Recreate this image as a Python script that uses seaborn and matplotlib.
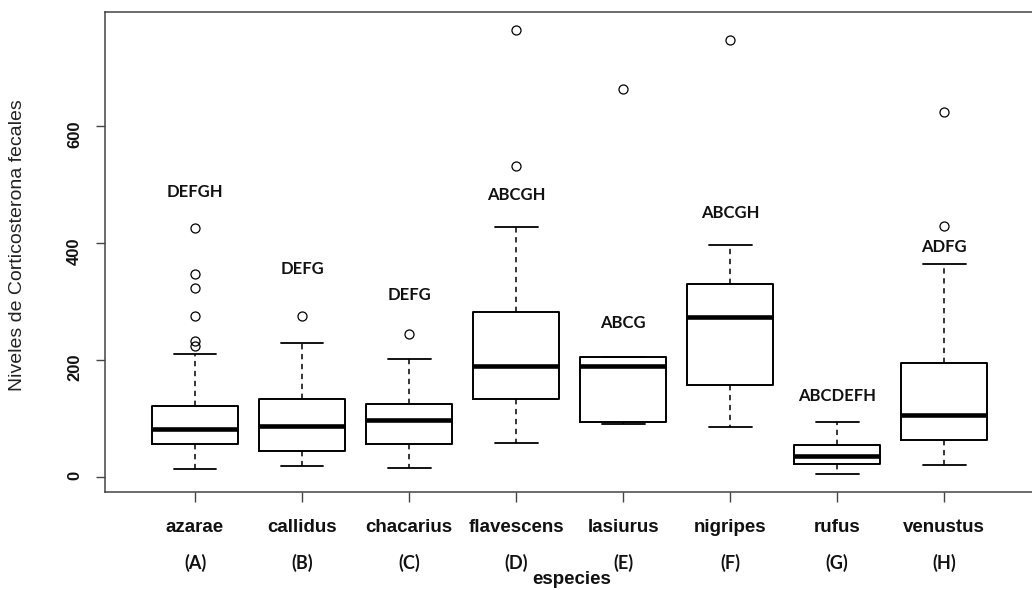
import matplotlib
matplotlib.use("Agg")
import matplotlib.pyplot as plt
import matplotlib.transforms as mtransforms
import pandas as pd
import seaborn as sns

# Especies de Oligoryzomys y letras de comparaciones múltiples
especies = ["azarae", "callidus", "chacarius", "flavescens",
            "lasiurus", "nigripes", "rufus", "venustus"]
codigos = ["(A)", "(B)", "(C)", "(D)", "(E)", "(F)", "(G)", "(H)"]
letras = ["DEFGH", "DEFG", "DEFG", "ABCGH", "ABCG", "ABCGH", "ABCDEFH", "ADFG"]

# Resumen de cinco números por especie (ng/g) y valores atípicos
bigote_inf = [13.7, 18.3, 15.4, 57.0, 89.7, 85.6, 5.2, 20.5]
cuartil_1 = [55.5, 44.5, 55.5, 133.6, 94.0, 157.0, 22.3, 63.4]
mediana = [81.0, 86.0, 96.5, 190.0, 190.0, 273.0, 35.4, 105.0]
cuartil_3 = [121.0, 133.6, 125.0, 281.5, 205.5, 330.0, 54.8, 194.7]
bigote_sup = [210.0, 229.0, 201.5, 427.6, 205.5, 396.7, 93.7, 364.7]
atipicos = [
    [426, 347, 323, 275, 233, 224],
    [275],
    [244],
    [765, 532.5],
    [663],
    [748],
    [],
    [624, 430],
]

# Altura (en unidades del eje) de las letras sobre cada caja
altura_letras = [487, 356, 311, 482, 263, 452, 138, 393]


def observaciones(lo, q1, med, q3, hi, extra):
    """Muestra ordenada de 4m+1 valores cuyos cuartiles y bigotes
    coinciden con el resumen dado (m = atípicos + 1)."""
    m = len(extra) + 1
    return ([lo] + [q1] * m + [med] * m + [q3] * m
            + [hi] * (m - len(extra)) + sorted(extra))


filas = []
for i, sp in enumerate(especies):
    for v in observaciones(bigote_inf[i], cuartil_1[i], mediana[i],
                           cuartil_3[i], bigote_sup[i], atipicos[i]):
        filas.append({"especie": sp, "cort": v})
df = pd.DataFrame(filas)

sns.set_style("white")
plt.rcParams["font.family"] = ["Liberation Sans", "DejaVu Sans"]

W, H = 1032, 590
fig = plt.figure(figsize=(W / 100, H / 100), dpi=100)
fig.patch.set_facecolor("white")
ax = fig.add_axes([105 / W, (H - 491.7) / H, 929.3 / W, 479.7 / H])

sns.boxplot(
    data=df, x="especie", y="cort", order=especies, ax=ax,
    fill=False, color="black", width=0.8, linewidth=1.4, whis=1.5,
    medianprops=dict(linewidth=3.3, color="black"),
    whiskerprops=dict(linestyle=(0, (3.5, 3.0)), linewidth=1.1),
    capprops=dict(linewidth=1.3),
    flierprops=dict(marker="o", markersize=6.5, markerfacecolor="none",
                    markeredgecolor="black", markeredgewidth=0.9),
)

ax.set_xlim(-0.841, 7.841)
ax.set_ylim(-25.7, 795.7)
ax.set_xlabel("")
ax.set_ylabel("")

frame = "#444444"
for side in ["left", "right", "top", "bottom"]:
    ax.spines[side].set_visible(True)
    ax.spines[side].set_color(frame)
    ax.spines[side].set_linewidth(1.1)

ax.set_yticks([0, 200, 400, 600])
ax.set_yticklabels(["0", "200", "400", "600"], rotation=90,
                   fontweight="bold", fontsize=12, color="#111111")
ax.set_xticks(range(len(especies)))
ax.set_xticklabels(especies, fontweight="bold", fontsize=13.5,
                   color="#111111")
ax.tick_params(axis="y", direction="out", length=6.5, width=1.0,
               color=frame, pad=10, left=True)
ax.tick_params(axis="x", direction="out", length=7.2, width=1.0,
               color=frame, pad=12.5, bottom=True)
ax.grid(False)

# Letras de significación sobre cada caja
for i, txt in enumerate(letras):
    ax.text(i, altura_letras[i], txt, ha="center", va="center",
            fontsize=12, fontweight="bold", family="Lato", color="#111111")

# Códigos de especie bajo los nombres
trans = mtransforms.blended_transform_factory(ax.transData, fig.transFigure)
for i, cod in enumerate(codigos):
    ax.text(i, (H - 563) / H, cod, transform=trans, ha="center", va="center",
            fontsize=13, fontweight="bold", family="Lato", color="#111111",
            clip_on=False)

fig.text(572 / W, (H - 579) / H, "especies", ha="center", va="center",
         fontsize=13.5, fontweight="bold", color="#111111")
fig.text(18 / W, (H - 245.5) / H, "Niveles de Corticosterona fecales",
         rotation=90, ha="center", va="center", fontsize=14,
         color="#222222")

fig.savefig("out.png", dpi=100, facecolor="white")
